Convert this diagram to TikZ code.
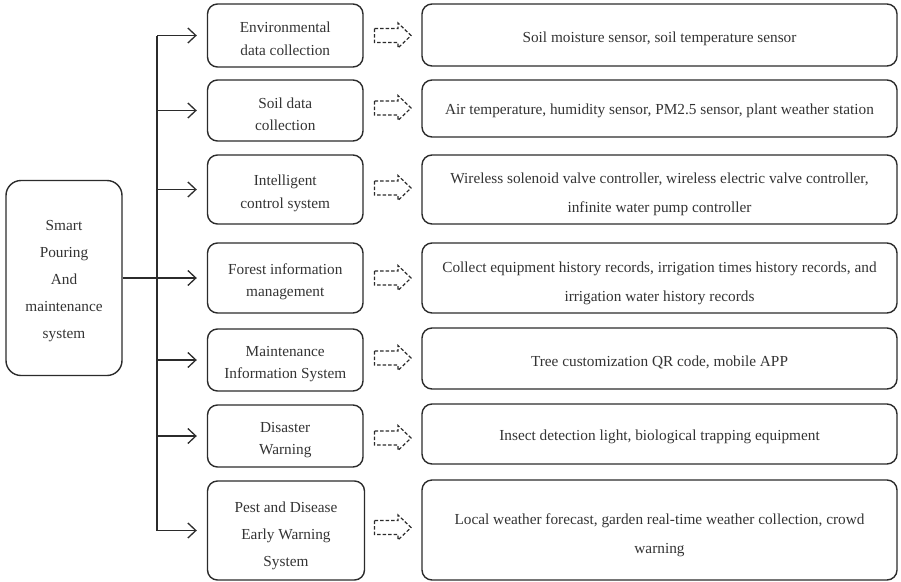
\documentclass[tikz,border=0pt]{standalone}
\usepackage{fontspec}
\setmainfont{Liberation Serif}
\usetikzlibrary{arrows.meta}
\definecolor{ink}{HTML}{2B2B2B}
\definecolor{txt}{HTML}{333333}
\tikzset{
  box/.style={draw=ink, line width=1.4pt, rounded corners=10pt, inner sep=0pt},
  midbox/.style={box, minimum width=155.5pt},
  rightbox/.style={box, minimum width=475pt},
  leftbox/.style={box, rounded corners=15pt, minimum width=116pt, minimum height=195pt},
  lbl/.style={text=txt, align=center, inner sep=0pt},
  midtext/.style={lbl, font=\fontsize{15.3}{22.5}\selectfont},
  midtext3/.style={lbl, font=\fontsize{15.3}{27}\selectfont},
  righttext/.style={lbl, font=\fontsize{15.3}{29}\selectfont},
  conn/.style={draw=ink, line width=1.3pt},
  feed/.style={conn, -{Straight Barb[length=8pt,width=15pt,line width=1.3pt]}, shorten >=10pt},
  darrow/.style={draw=ink, line width=1.2pt, dash pattern=on 3.5pt off 2pt, line join=miter}
}
\begin{document}
\begin{tikzpicture}[x=1pt,y=-1pt]
\useasboundingbox (0,0) rectangle (901,581);
% left box
\node[leftbox] (L) at (64,278) {};
\node[midtext3] (Lt) at ([yshift=-3pt]L.center) {Smart\\Pouring\\And\\maintenance\\system};
% middle boxes
\node[midbox, minimum height=63pt] (M1) at (285.25,35.5) {};
\node[midbox, minimum height=61pt] (M2) at (285.25,110.5) {};
\node[midbox, minimum height=69pt] (M3) at (285.25,189.5) {};
\node[midbox, minimum height=70pt] (M4) at (285.25,278) {};
\node[midbox, minimum height=62pt] (M5) at (285.25,360) {};
\node[midbox, minimum height=62pt] (M6) at (285.25,436) {};
\node[midbox, minimum height=99pt, minimum width=157pt] (M7) at (286,530.5) {};
\node[midtext] (M1t) at ([yshift=-3.5pt]M1.center) {Environmental\\data collection};
\node[midtext] (M2t) at ([yshift=-4pt]M2.center) {Soil data\\collection};
\node[midtext] (M3t) at ([yshift=-4pt]M3.center) {Intelligent\\control system};
\node[midtext] (M4t) at ([yshift=-4pt]M4.center) {Forest information\\management};
\node[midtext] (M5t) at ([yshift=-4pt]M5.center) {Maintenance\\Information System};
\node[midtext] (M6t) at ([yshift=-4pt]M6.center) {Disaster\\Warning};
\node[midtext3] (M7t) at ([yshift=-5pt]M7.center) {Pest and Disease\\Early Warning\\System};
% right boxes
\node[rightbox, minimum height=62pt] (R1) at (659.5,35) {};
\node[rightbox, minimum height=57pt] (R2) at (659.5,108.5) {};
\node[rightbox, minimum height=69pt] (R3) at (659.5,189.5) {};
\node[rightbox, minimum height=70pt] (R4) at (659.5,278) {};
\node[rightbox, minimum height=61pt] (R5) at (659.5,358.5) {};
\node[rightbox, minimum height=60pt] (R6) at (659.5,434) {};
\node[rightbox, minimum height=100pt] (R7) at (659.5,530) {};
\node[righttext] (R1t) at ([yshift=-4pt]R1.center) {Soil moisture sensor, soil temperature sensor};
\node[righttext] (R2t) at ([yshift=-2pt]R2.center) {Air temperature, humidity sensor, PM2.5 sensor, plant weather station};
\node[righttext] (R3t) at ([yshift=-5pt]R3.center) {Wireless solenoid valve controller, wireless electric valve controller,\\infinite water pump controller};
\node[righttext] (R4t) at ([yshift=-5pt]R4.center) {Collect equipment history records, irrigation times history records, and\\irrigation water history records};
\node[righttext] (R5t) at ([yshift=-4pt]R5.center) {Tree customization QR code, mobile APP};
\node[righttext] (R6t) at ([yshift=-3pt]R6.center) {Insect detection light, biological trapping equipment};
\node[righttext] (R7t) at ([yshift=-5pt]R7.center) {Local weather forecast, garden real-time weather collection, crowd\\warning};
% trunk
\coordinate (T) at (157,0);
\draw[conn] (T |- M1.west) -- (T |- M7.west);
\draw[conn] (L.east) -- (T |- L.east);
\foreach \m in {M1,M2,M3,M4,M5,M6,M7}{
  \draw[feed] (T |- \m.west) -- (\m.west);
}
% dashed block arrows
\foreach \y in {35.5,108,188,278,358,438,527.5}{
  \draw[darrow, shift={(392.5,\y)}] (-18,-7) -- (5.5,-7) -- (5.5,-12.5) -- (18.5,0) -- (5.5,12.5) -- (5.5,7) -- (-18,7) -- cycle;
}
\end{tikzpicture}
\end{document}
